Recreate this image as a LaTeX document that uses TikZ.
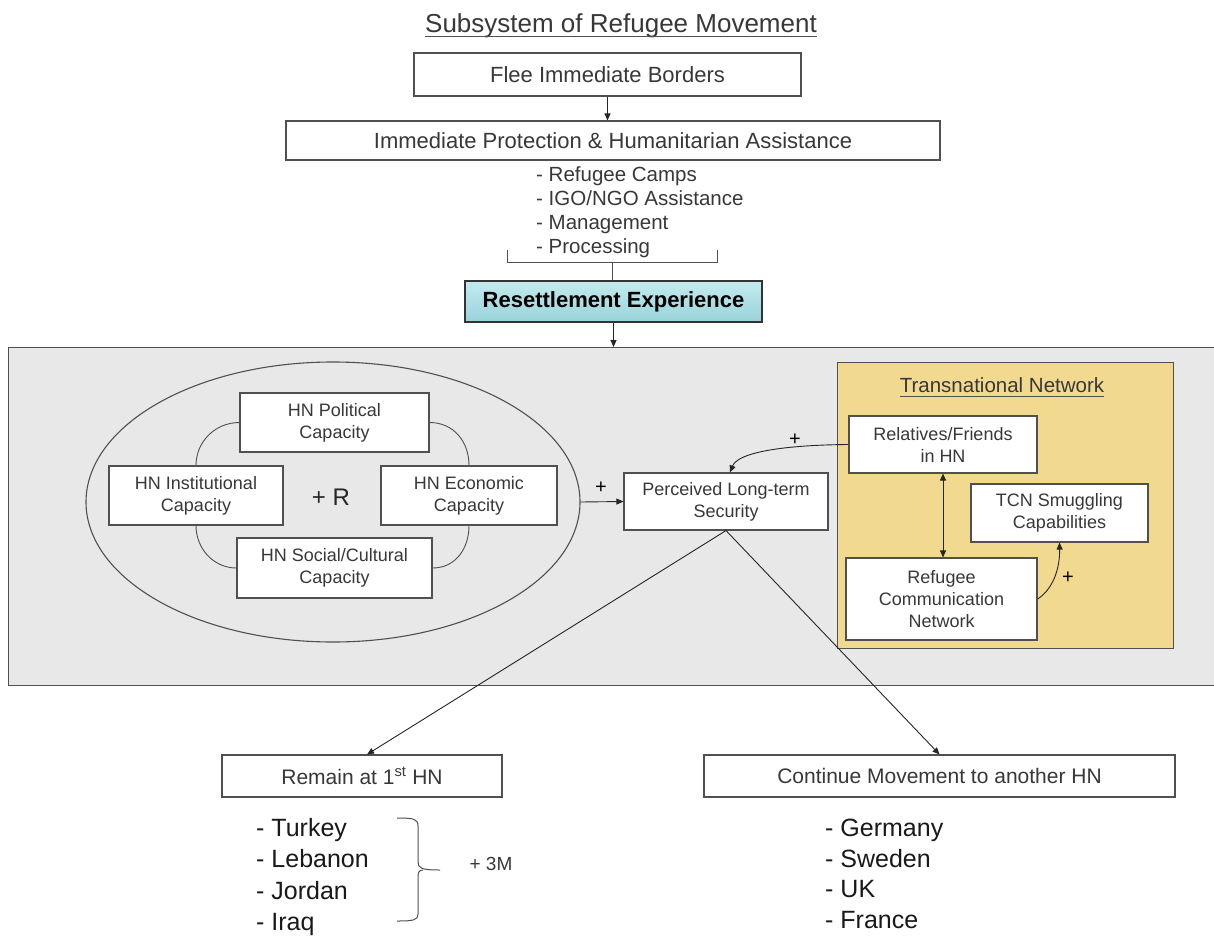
\documentclass[tikz,border=0pt]{standalone}
\usepackage{fontspec}
\setmainfont{Liberation Sans}
\usetikzlibrary{arrows.meta,shapes.geometric}
\definecolor{gbg}{HTML}{E8E8E8}
\definecolor{tnfill}{HTML}{F2D990}
\definecolor{linec}{HTML}{505050}
\definecolor{txtc}{HTML}{383838}
\definecolor{restop}{HTML}{C4EBEE}
\definecolor{resbot}{HTML}{98D3DA}
\tikzset{
  bx/.style={draw=linec, line width=1.1pt, fill=white, inner sep=0pt, align=center, text=txtc},
  arr/.style={-{Triangle[length=7pt,width=6pt]}, line width=0.9pt, draw=black!85},
  darr/.style={{Triangle[length=7pt,width=6pt]}-{Triangle[length=7pt,width=6pt]}, line width=0.9pt, draw=black!85},
  conn/.style={line width=0.9pt, draw=linec},
  fbig/.style={font=\fontsize{22}{26}\selectfont},
  fsmall/.style={font=\fontsize{18}{22}\selectfont},
  flist/.style={font=\fontsize{25}{31.5}\selectfont, text=black!90, inner sep=0pt, align=left},
}
\begin{document}
\begin{tikzpicture}[x=1pt,y=-1pt]
\useasboundingbox (0,0) rectangle (1214,936);
\fill[white] (0,0) rectangle (1214,936);

% title
\node[font=\fontsize{26}{30}\selectfont, text=txtc, inner sep=0pt, anchor=base] (title) at (621,33) {Subsystem of Refugee Movement};
\draw[linec, line width=1pt] ([yshift=-4pt]title.base west) -- ([yshift=-4pt]title.base east);

% top flow
\node[bx, fbig, minimum width=387pt, minimum height=43pt] (flee) at (607.5,74.5) {Flee Immediate Borders};
\node[bx, fbig, minimum width=654pt, minimum height=39pt] (prot) at (613,140.5) {Immediate Protection \& Humanitarian Assistance};
\draw[arr] (flee.south) -- (flee.south |- prot.north);

\node[font=\fontsize{20.5}{24}\selectfont, text=txtc, inner sep=0pt, align=left, anchor=west] (plist) at (536,212)
  {- Refugee Camps\\- IGO/NGO Assistance\\- Management\\- Processing};

\coordinate (brk) at (612,262);
\draw[conn, line width=1pt] (507,250) -- (507,262) -- (717,262) -- (717,250);

\node[draw=black!80, line width=2pt, top color=restop, bottom color=resbot, inner sep=0pt,
      minimum width=297pt, minimum height=41pt, font=\bfseries\fontsize{22}{26}\selectfont] (res) at (613.5,301.5) {Resettlement Experience};
\draw[conn, line width=1pt] (brk) -- (brk |- res.north);

% big grey panel
\node[draw=linec, line width=1.1pt, fill=gbg, inner sep=0pt, minimum width=1220pt, minimum height=338pt, anchor=north west] (panel) at (8,347) {};
\draw[arr] (res.south) -- (res.south |- panel.north);

% ellipse and capacities
\node[ellipse, draw=linec, line width=1.1pt, inner sep=0pt, minimum width=494pt, minimum height=280pt] (ell) at (333,502) {};
\node[bx, fsmall, minimum width=189pt, minimum height=59pt] (pol) at (334.5,422.5) {HN Political\\Capacity};
\node[bx, fsmall, minimum width=174pt, minimum height=59pt] (inst) at (196,495.5) {HN Institutional\\Capacity};
\node[bx, fsmall, minimum width=176pt, minimum height=59pt] (econ) at (469,495.5) {HN Economic\\Capacity};
\node[bx, fsmall, minimum width=195pt, minimum height=60pt] (soc) at (334.5,568) {HN Social/Cultural\\Capacity};
\node[font=\fontsize{24}{28}\selectfont, text=black!85, inner sep=0pt] (loopR) at (331,497) {+ R};

\draw[conn] (pol.west) .. controls +(-24,0) and +(0,-24) .. (inst.north);
\draw[conn] (pol.east) .. controls +(24,0) and +(0,-24) .. (econ.north);
\draw[conn] (inst.south) .. controls +(0,23) and +(-23,0) .. (soc.west);
\draw[conn] (econ.south) .. controls +(0,23) and +(23,0) .. (soc.east);

% perceived security
\node[bx, fsmall, minimum width=204pt, minimum height=57pt] (per) at (726,501.5) {Perceived Long-term\\Security};
\draw[arr] (ell.east) -- (per.west);
\node[font=\fontsize{20}{24}\selectfont, inner sep=0pt] (plus1) at (601,488) {+};

% transnational network
\node[draw=linec, line width=1.1pt, fill=tnfill, inner sep=0pt, minimum width=336pt, minimum height=286pt, anchor=north west] (tn) at (837,362) {};
\node[font=\fontsize{20.5}{24}\selectfont, text=txtc, inner sep=0pt, anchor=base] (tntitle) at (1002,392) {Transnational Network};
\draw[linec, line width=1pt] ([yshift=-4pt]tntitle.base west) -- ([yshift=-4pt]tntitle.base east);

\node[bx, fsmall, minimum width=188pt, minimum height=57pt] (rel) at (943,444.5) {Relatives/Friends\\in HN};
\node[bx, fsmall, minimum width=177pt, minimum height=58pt] (tcn) at (1059.5,513) {TCN Smuggling\\Capabilities};
\node[bx, fsmall, minimum width=191pt, minimum height=82pt] (rcn) at (941.5,599) {Refugee\\Communication\\Network};

\draw[darr] (rel.south) -- (rel.south |- rcn.north);
\draw[arr] (rel.west) .. controls (785,445) and (738,452) .. ([xshift=4pt]per.north);
\node[font=\fontsize{20}{24}\selectfont, inner sep=0pt] (plus2) at (795,440) {+};
\draw[arr] (rcn.east) .. controls (1052,590) and (1060,570) .. (tcn.south);
\node[font=\fontsize{20}{24}\selectfont, inner sep=0pt] (plus3) at (1068,578) {+};

% outcomes
\node[bx, font=\fontsize{21}{25}\selectfont, minimum width=280pt, minimum height=42pt] (rem) at (362,776) {Remain at 1\textsuperscript{st} HN};
\node[bx, font=\fontsize{21}{25}\selectfont, minimum width=471pt, minimum height=42pt] (cont) at (939.5,776) {Continue Movement to another HN};
\draw[arr] (per.south) -- ([xshift=5pt]rem.north);
\draw[arr] (per.south) -- (cont.north);

\node[flist, anchor=west] (llist) at (256,877) {- Turkey\\- Lebanon\\- Jordan\\- Iraq};
\node[flist, font=\fontsize{25}{30.7}\selectfont, anchor=west] (rlist) at (825,874) {- Germany\\- Sweden\\- UK\\- France};

% brace
\draw[conn, line width=1pt] (397,818) .. controls (414,818) and (418,819) .. (418,826) -- (418,862) .. controls (418,868) and (421,870) .. (440,870);
\draw[conn, line width=1pt] (423,870) .. controls (419,870) and (418,872) .. (418,878) -- (418,914) .. controls (418,920) and (414,921) .. (397,921);
\node[font=\fontsize{19}{23}\selectfont, text=txtc, inner sep=0pt] (threeM) at (491,864) {+ 3M};
\end{tikzpicture}
\end{document}
